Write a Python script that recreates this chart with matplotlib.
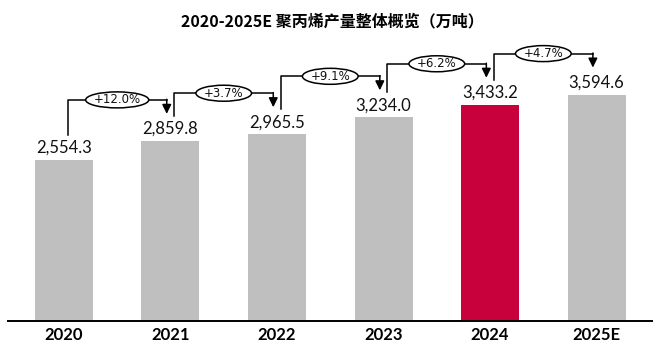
import numpy as np
import matplotlib.pyplot as plt
from matplotlib.patches import Ellipse

years = ['2020', '2021', '2022', '2023', '2024', '2025E']
output = [2554.3, 2859.8, 2965.5, 3234.0, 3433.2, 3594.6]
growth = ['+12.0%', '+3.7%', '+9.1%', '+6.2%', '+4.7%']
colors = ['#BFBFBF', '#BFBFBF', '#BFBFBF', '#BFBFBF', '#C8003C', '#BFBFBF']

upp = 15.87   # data units per pixel (vertical)
xpp = 1/106.6  # bar units per pixel (horizontal)

fig = plt.figure(figsize=(6.6, 3.52), dpi=100)
ax = fig.add_axes([8/660, 31/352, 644/660, 291/352])

x = np.arange(len(years))
ax.bar(x, output, width=0.545, color=colors, zorder=2)

for i in range(len(years)):
    ax.text(x[i], output[i] + 4*upp, f'{output[i]:,.1f}', ha='center', va='bottom',
            fontsize=12, family='Lato', color='#111111')

ax.set_xlim(-0.525, 5.52)
ax.set_ylim(0, 4620)
renderer = fig.canvas.get_renderer()

for i in range(len(growth)):
    x0 = x[i] + 0.035
    x1 = x[i+1] - 0.035
    y0 = output[i] + 25*upp
    ylev = output[i+1] + 41*upp
    ytip = output[i+1] + 27*upp
    ax.plot([x0, x0, x1], [y0, ylev, ylev], color='black', lw=1.1, zorder=3)
    ax.annotate('', xy=(x1, ytip), xytext=(x1, ylev + 0.6*upp),
                arrowprops=dict(arrowstyle='-|>,head_length=0.55,head_width=0.27',
                                color='black', lw=1.1, shrinkA=0, shrinkB=0), zorder=3)
    xm = (x0 + x1)/2
    t = ax.text(xm, ylev, growth[i], ha='center', va='center', fontsize=8.5,
                family='DejaVu Sans', color='#111111', zorder=5)
    tw = t.get_window_extent(renderer).width
    ax.add_patch(Ellipse((xm, ylev), (tw + 16)*xpp, 16*upp, fc='white', ec='black',
                         lw=1.1, zorder=4))

ax.set_xticks(x)
ax.set_xticklabels(years, fontsize=12, fontweight='bold', family='Lato')
ax.tick_params(axis='x', length=0, pad=4)
ax.set_yticks([])
for s in ['top', 'left', 'right']:
    ax.spines[s].set_visible(False)
ax.spines['bottom'].set_linewidth(1.4)

fig.text(0.503, 1 - 21/352, '2020-2025E 聚丙烯产量整体概览（万吨）', ha='center', va='center',
         fontsize=11.5, fontweight='bold', family=['Noto Sans CJK SC', 'DejaVu Sans'])

fig.savefig('out.png', dpi=100)
